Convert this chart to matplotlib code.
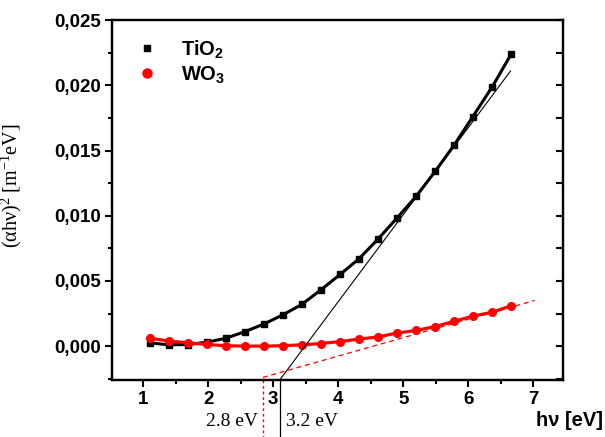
import matplotlib
matplotlib.use('Agg')
import matplotlib.pyplot as plt
from matplotlib.lines import Line2D
from matplotlib.ticker import MultipleLocator, FuncFormatter

plt.rcParams['mathtext.fontset'] = 'custom'
plt.rcParams['mathtext.rm'] = 'Liberation Serif'
plt.rcParams['mathtext.bf'] = 'Liberation Sans:bold'
plt.rcParams['mathtext.default'] = 'rm'

#%% data
hv = [1.10, 1.39, 1.69, 1.98, 2.27, 2.56, 2.86, 3.15, 3.44, 3.73,
      4.03, 4.32, 4.61, 4.90, 5.20, 5.49, 5.78, 6.07, 6.37, 6.66]
tio2 = [0.00025, 0.0001, 0.00012, 0.0003, 0.0006, 0.0011, 0.0017, 0.0024, 0.0032, 0.0043,
        0.0055, 0.0067, 0.0082, 0.0098, 0.0115, 0.0134, 0.0154, 0.0176, 0.0199, 0.0224]
wo3 = [0.0006, 0.0004, 0.00025, 0.00013, 0.00003, 0.0, 0.0, 0.00003, 0.0001, 0.0002,
       0.00035, 0.00054, 0.0007, 0.001, 0.0012, 0.0015, 0.0019, 0.0023, 0.0026, 0.0031]

# linear fits (tangents) used for the band gap
tio2_fit_x = [3.10, 6.65]
tio2_fit_y = [-0.0026, 0.0211]
wo3_fit_x = [2.84, 7.02]
wo3_fit_y = [-0.0024, 0.0035]
gap_tio2 = 3.10
gap_wo3 = 2.84

#%% plot
fig = plt.figure(figsize=(6.05, 4.37), dpi=100)
ax = fig.add_axes([0.185, 0.1304, 0.746, 0.8236])

ax.plot(hv, tio2, color='black', linewidth=2.2, marker='s', markersize=4.5, zorder=3)
ax.plot(hv, wo3, color='#ff0000', linewidth=2.3, marker='o', markersize=5.5, zorder=3)
ax.plot(tio2_fit_x, tio2_fit_y, color='black', linewidth=0.8, zorder=4)
ax.plot(wo3_fit_x, wo3_fit_y, color='#ff0000', linewidth=0.9, linestyle=(0, (4, 3)), zorder=2)

ybot = -0.0026
ax.plot([gap_tio2, gap_tio2], [ybot, ybot - 0.0045], color='black', linewidth=0.9, clip_on=False)
ax.plot([gap_wo3, gap_wo3], [ybot, ybot - 0.0045], color='#ff0000', linewidth=1.0,
        linestyle=(0, (2, 2)), clip_on=False)

ax.set_xlim(0.52, 7.46)
ax.set_ylim(ybot, 0.025)

ax.xaxis.set_major_locator(MultipleLocator(1))
ax.xaxis.set_minor_locator(MultipleLocator(0.5))
ax.yaxis.set_major_locator(MultipleLocator(0.005))
ax.yaxis.set_minor_locator(MultipleLocator(0.0025))
ax.yaxis.set_major_formatter(FuncFormatter(lambda v, p: f'{v:.3f}'.replace('.', ',').replace('-', '')))

for s in ax.spines.values():
    s.set_linewidth(1.6)

ax.tick_params(which='both', direction='out', top=False, right=False, width=1.5)
ax.tick_params(which='major', length=5, pad=3)
ax.tick_params(which='minor', length=3)
for lab in ax.get_xticklabels() + ax.get_yticklabels():
    lab.set_fontfamily('Liberation Sans')
    lab.set_fontweight('bold')
    lab.set_fontsize(13.5)

# inward ticks on the right spine
ax2 = ax.twinx()
ax2.set_ylim(ax.get_ylim())
ax2.yaxis.set_major_locator(MultipleLocator(0.005))
ax2.yaxis.set_minor_locator(MultipleLocator(0.0025))
ax2.tick_params(which='both', direction='in', labelright=False, width=1.5)
ax2.tick_params(which='major', length=5)
ax2.tick_params(which='minor', length=5)
for s in ax2.spines.values():
    s.set_linewidth(1.6)

ax.set_ylabel('(αhν)$^2$ [m$^{-1}$eV]', family='Liberation Serif', fontsize=14.5)
ax.yaxis.set_label_coords(-0.195, 0.54)

fig.text(0.997, 0.025, 'hν [eV]', family='Liberation Sans', fontweight='bold', fontsize=14.5,
         ha='right', va='baseline')
ax.text(2.76, -0.0058, '2.8 eV', family='Liberation Serif', fontsize=14, ha='right', va='center')
ax.text(3.2, -0.0058, '3.2 eV', family='Liberation Serif', fontsize=14, ha='left', va='center')

handles = [Line2D([], [], color='black', marker='s', linestyle='none', markersize=5),
           Line2D([], [], color='#ff0000', marker='o', linestyle='none', markersize=6.5)]
leg = ax.legend(handles, [r'TiO$_\mathbf{2}$', r'WO$_\mathbf{3}$'], loc='upper left',
                bbox_to_anchor=(0.01, 1.0), frameon=False, handlelength=1.2,
                handletextpad=1.1, labelspacing=0.2,
                prop={'family': 'Liberation Sans', 'weight': 'bold', 'size': 14.5})

fig.savefig('out.png', dpi=100)
